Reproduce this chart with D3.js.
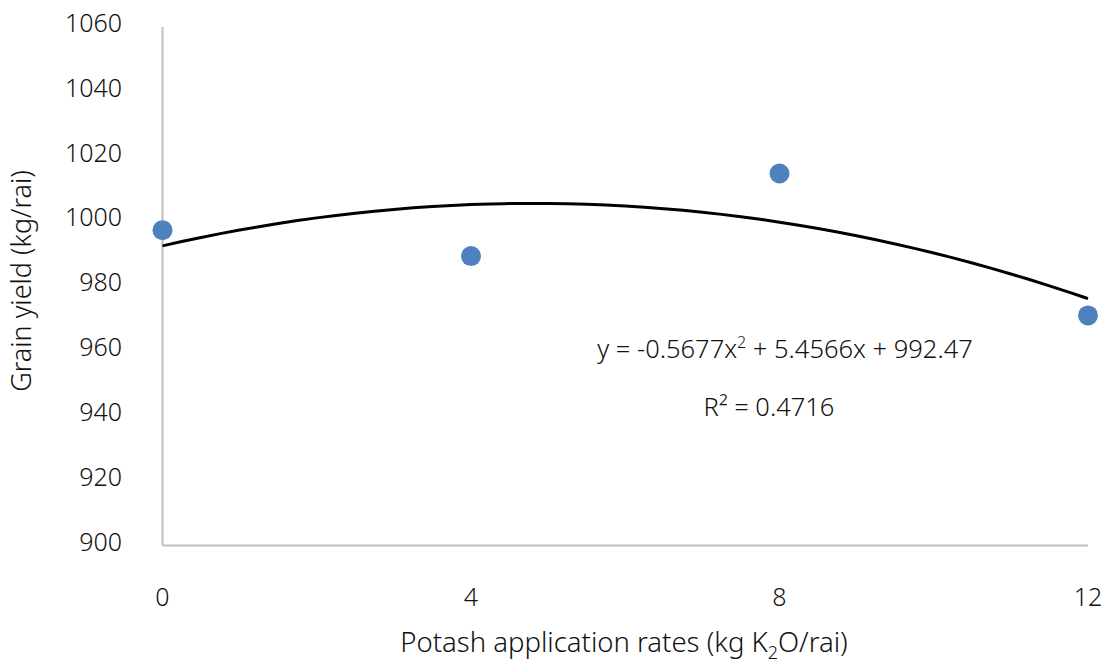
<!DOCTYPE html>
<html>
<head>
<meta charset="utf-8">
<script src="https://cdn.jsdelivr.net/npm/d3@7"></script>
<style>
  body { margin: 0; background: #fff; }
  text { font-family: "Noto Sans", sans-serif; font-weight: 300; fill: #111; }
</style>
</head>
<body>
<div id="chart"></div>
<script>
// potash rates (kg K2O/rai) and grain yield (kg/rai)
var rates = [0, 4, 8, 12];
var yields = [997.3, 989.3, 1014.8, 971];
var yTicks = [900, 920, 940, 960, 980, 1000, 1020, 1040, 1060];
// quadratic trendline y = a*x^2 + b*x + c
var coef = [-0.5677, 5.4566, 992.47];
var r2 = "0.4716";

var width = 1114,
    height = 666;

var x = d3.scaleLinear().domain([0, 12]).range([162.5, 1088]);
var y = d3.scaleLinear().domain([900, 1060]).range([545.5, 27]);

var svg = d3.select("#chart")
    .append("svg")
    .attr("width", width)
    .attr("height", height);

// axis lines
svg.append("line")
    .attr("x1", x(0)).attr("x2", x(0))
    .attr("y1", y(900)).attr("y2", y(1060))
    .attr("stroke", "#bfbfbf").attr("stroke-width", 2);
svg.append("line")
    .attr("x1", x(0)).attr("x2", x(12))
    .attr("y1", y(900)).attr("y2", y(900))
    .attr("stroke", "#bfbfbf").attr("stroke-width", 2);

// tick labels
svg.selectAll(".ytick")
    .data(yTicks)
    .enter().append("text")
    .attr("class", "ytick")
    .attr("x", 122)
    .attr("y", function (d) { return y(d) - 4; })
    .attr("dy", "0.36em")
    .attr("text-anchor", "end")
    .style("font-size", "25px")
    .text(function (d) { return d; });

svg.selectAll(".xtick")
    .data(rates)
    .enter().append("text")
    .attr("class", "xtick")
    .attr("x", function (d) { return x(d); })
    .attr("y", 597)
    .attr("dy", "0.36em")
    .attr("text-anchor", "middle")
    .style("font-size", "25px")
    .text(function (d) { return d; });

// axis titles
var xt = svg.append("text")
    .attr("x", 624)
    .attr("y", 652)
    .attr("text-anchor", "middle")
    .style("font-size", "27.5px");
xt.append("tspan").text("Potash application rates (kg K");
xt.append("tspan").attr("dy", 7).style("font-size", "18px").text("2");
xt.append("tspan").attr("dy", -7).text("O/rai)");

svg.append("text")
    .attr("transform", "translate(31,281) rotate(-90)")
    .attr("text-anchor", "middle")
    .style("font-size", "27px")
    .text("Grain yield (kg/rai)");

// trendline
var fit = function (v) { return coef[0] * v * v + coef[1] * v + coef[2]; };
var line = d3.line()
    .x(function (d) { return x(d); })
    .y(function (d) { return y(fit(d)); })
    .curve(d3.curveBasis);

svg.append("path")
    .datum(d3.range(0, 12.001, 0.25))
    .attr("d", line)
    .attr("fill", "none")
    .attr("stroke", "#000")
    .attr("stroke-width", 3);

// points
svg.selectAll("circle")
    .data(rates)
    .enter().append("circle")
    .attr("cx", function (d) { return x(d); })
    .attr("cy", function (d, i) { return y(yields[i]); })
    .attr("r", 10)
    .attr("fill", "#4f81bd");

// equation labels
var eq = svg.append("text")
    .attr("x", 785)
    .attr("y", 358)
    .attr("text-anchor", "middle")
    .style("font-size", "25.5px");
eq.append("tspan").text("y = " + coef[0] + "x");
eq.append("tspan").attr("dy", -10).style("font-size", "16px").text("2");
eq.append("tspan").attr("dy", 10).text(" + " + coef[1] + "x + " + coef[2]);

svg.append("text")
    .attr("x", 769)
    .attr("y", 416)
    .attr("text-anchor", "middle")
    .style("font-size", "25.5px")
    .text("R² = " + r2);
</script>
</body>
</html>
